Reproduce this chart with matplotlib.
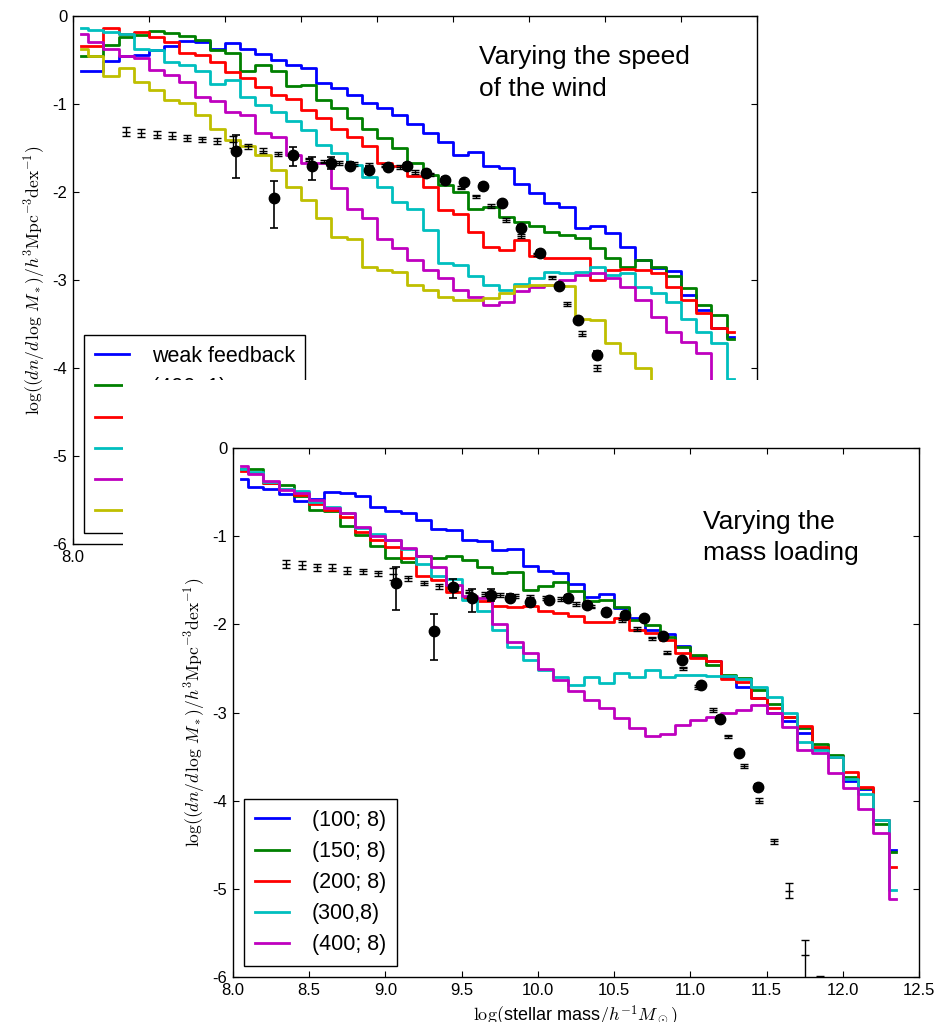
import matplotlib
matplotlib.use("Agg")
import matplotlib.pyplot as plt
import numpy as np

plt.rcParams.update({"font.family": "sans-serif", "font.sans-serif": ["Liberation Sans", "DejaVu Sans"],
    "mathtext.fontset": "cm", "axes.unicode_minus": False, "font.size": 12,
    "xtick.direction": "in", "ytick.direction": "in", "xtick.top": True, "ytick.right": True,
    "xtick.major.size": 4, "ytick.major.size": 4, "xtick.major.pad": 4, "ytick.major.pad": 4,
    "axes.linewidth": 1.0})

# bin centres of the model histograms (log M*)
mass_bins = np.round(np.arange(8.05, 12.36, 0.1), 2)

# top panel: varying the wind speed
top_labels = ["weak feedback", "(400; 1)", "(400; 2)", "(400; 4)", "(400; 6)", "(400; 8)"]
top_weak = [-0.625, -0.625, -0.51, -0.46, -0.44, -0.39, -0.34, -0.28, -0.29, -0.37, -0.31, -0.37, -0.43, -0.50,
            -0.56, -0.59, -0.76, -0.82, -0.90, -0.99, -1.04, -1.125, -1.23, -1.33, -1.43, -1.58, -1.55, -1.70,
            -1.73, -1.91, -2.01, -2.13, -2.17, -2.41, -2.39, -2.47, -2.62, -2.77, -2.86, -2.90, -3.17, -3.34,
            -3.55, -3.65]
top_v1 = [-0.46, -0.46, -0.33, -0.24, -0.22, -0.17, -0.19, -0.23, -0.27, -0.39, -0.42, -0.63, -0.56, -0.63,
          -0.80, -0.78, -0.95, -1.05, -1.16, -1.28, -1.39, -1.50, -1.67, -1.81, -1.92, -2.00, -2.19, -2.17,
          -2.28, -2.34, -2.39, -2.46, -2.49, -2.52, -2.64, -2.75, -2.85, -2.77, -2.85, -2.95, -3.09, -3.28,
          -3.40, -3.67]
top_v2 = [-0.34, -0.34, -0.14, -0.20, -0.18, -0.24, -0.30, -0.42, -0.44, -0.52, -0.64, -0.70, -0.81, -0.90,
          -0.94, -1.07, -1.16, -1.28, -1.38, -1.48, -1.67, -1.70, -1.82, -1.94, -2.20, -2.25, -2.45, -2.63,
          -2.66, -2.55, -2.73, -2.75, -2.75, -2.75, -3.00, -2.89, -2.88, -2.89, -2.92, -3.08, -3.23, -3.38,
          -3.55, -3.59]
top_v3 = [-0.14, -0.16, -0.18, -0.20, -0.37, -0.39, -0.52, -0.56, -0.63, -0.77, -0.73, -0.92, -1.01, -1.09,
          -1.19, -1.30, -1.47, -1.56, -1.69, -1.83, -1.94, -2.11, -2.19, -2.43, -2.81, -2.83, -2.96, -3.06,
          -3.11, -3.04, -2.98, -2.91, -2.92, -2.91, -2.85, -2.94, -2.92, -3.08, -3.15, -3.25, -3.44, -3.59,
          -3.72, -4.12]
top_v4 = [-0.20, -0.29, -0.37, -0.46, -0.48, -0.61, -0.67, -0.75, -0.92, -0.97, -1.09, -1.125, -1.33, -1.37,
          -1.58, -1.67, -1.67, -1.96, -2.19, -2.30, -2.53, -2.64, -2.77, -2.89, -2.98, -3.11, -3.19, -3.28,
          -3.25, -3.13, -3.08, -3.06, -3.00, -2.94, -2.92, -2.98, -3.08, -3.23, -3.42, -3.59, -3.70, -3.83,
          -4.25, -4.60]
top_v5 = [-0.38, -0.46, -0.68, -0.59, -0.75, -0.84, -0.95, -0.99, -1.125, -1.28, -1.41, -1.48, -1.58, -1.75,
          -1.94, -2.09, -2.30, -2.51, -2.53, -2.85, -2.89, -2.91, -3.06, -3.11, -3.19, -3.23, -3.23, -3.21,
          -3.15, -3.07, -3.06, -3.06, -3.07, -3.44, -3.45, -3.72, -3.83, -4.00, -4.15, -4.35, -4.60, -4.85,
          -5.10, -5.40]

# bottom panel: varying the mass loading
bot_labels = ["(100; 8)", "(150; 8)", "(200; 8)", "(300,8)", "(400; 8)"]
bot_100 = [-0.355, -0.44, -0.46, -0.52, -0.60, -0.58, -0.50, -0.51, -0.55, -0.665, -0.72, -0.74, -0.82, -0.92,
           -0.93, -1.04, -1.06, -1.16, -1.145, -1.34, -1.39, -1.42, -1.54, -1.685, -1.655, -1.82, -1.93, -2.06,
           -2.11, -2.25, -2.37, -2.42, -2.60, -2.71, -2.84, -3.00, -3.10, -3.23, -3.40, -3.50, -3.78, -3.87,
           -4.22, -4.56]
bot_150 = [-0.24, -0.24, -0.40, -0.42, -0.55, -0.70, -0.72, -0.89, -0.99, -1.11, -1.25, -1.29, -1.225, -1.25,
           -1.23, -1.27, -1.35, -1.42, -1.41, -1.61, -1.57, -1.52, -1.62, -1.74, -1.72, -1.80, -1.95, -2.01,
           -2.14, -2.26, -2.35, -2.46, -2.57, -2.61, -2.74, -2.90, -3.05, -3.18, -3.36, -3.48, -3.73, -3.86,
           -4.26, -4.58]
bot_200 = [-0.26, -0.28, -0.40, -0.47, -0.53, -0.63, -0.70, -0.78, -0.95, -1.04, -1.12, -1.25, -1.45, -1.50,
           -1.63, -1.70, -1.74, -1.79, -1.80, -1.79, -1.85, -1.87, -1.91, -1.97, -1.97, -1.93, -2.06, -2.10,
           -2.18, -2.33, -2.385, -2.42, -2.62, -2.65, -2.84, -2.95, -3.05, -3.15, -3.39, -3.50, -3.68, -3.85,
           -4.22, -4.75]
bot_300 = [-0.24, -0.27, -0.38, -0.46, -0.49, -0.61, -0.67, -0.74, -0.91, -0.97, -1.04, -1.14, -1.31, -1.45,
           -1.49, -1.72, -1.85, -2.06, -2.26, -2.40, -2.52, -2.60, -2.69, -2.60, -2.66, -2.555, -2.60, -2.52,
           -2.60, -2.575, -2.575, -2.585, -2.59, -2.62, -2.71, -2.82, -3.00, -3.33, -3.42, -3.51, -3.75, -3.92,
           -4.22, -5.01]
bot_400 = [-0.20, -0.295, -0.37, -0.48, -0.51, -0.59, -0.685, -0.74, -0.90, -0.995, -1.04, -1.13, -1.23, -1.35,
           -1.55, -1.68, -1.70, -2.00, -2.20, -2.33, -2.51, -2.63, -2.76, -2.86, -2.95, -3.06, -3.18, -3.27,
           -3.24, -3.14, -3.08, -3.05, -3.01, -2.97, -2.91, -3.01, -3.16, -3.42, -3.46, -3.69, -3.86, -4.10,
           -4.37, -5.11]

# observations: small error bars
obs1_x = np.round(np.arange(8.35, 11.86, 0.1), 2)
obs1_y = [-1.315, -1.33, -1.35, -1.36, -1.39, -1.40, -1.42, -1.43, -1.48, -1.53, -1.57, -1.60, -1.63, -1.655,
          -1.67, -1.68, -1.69, -1.70, -1.715, -1.77, -1.80, -1.87, -1.95, -2.05, -2.16, -2.32, -2.50, -2.71,
          -2.97, -3.27, -3.61, -4.00, -4.46, -5.02, -5.75, -6.40]
obs1_lo = [0.05, 0.045, 0.04, 0.04, 0.035, 0.03, 0.03, 0.07, 0.03, 0.025, 0.025, 0.02, 0.02, 0.02, 0.02, 0.02,
           0.02, 0.02, 0.02, 0.02, 0.02, 0.02, 0.02, 0.02, 0.02, 0.02, 0.02, 0.02, 0.02, 0.02, 0.025, 0.03,
           0.03, 0.085, 0.35, 0.40]
obs1_hi = [0.05, 0.045, 0.04, 0.04, 0.035, 0.03, 0.03, 0.07, 0.03, 0.025, 0.025, 0.02, 0.02, 0.02, 0.02, 0.02,
           0.02, 0.02, 0.02, 0.02, 0.02, 0.02, 0.02, 0.02, 0.02, 0.02, 0.02, 0.02, 0.02, 0.02, 0.025, 0.03,
           0.03, 0.085, 0.17, 0.41]

# observations: filled circles
obs2_x = [9.07, 9.32, 9.445, 9.57, 9.695, 9.82, 9.945, 10.07, 10.195, 10.32, 10.445, 10.57, 10.695, 10.82,
          10.945, 11.07, 11.195, 11.32, 11.445]
obs2_y = [-1.53, -2.07, -1.58, -1.70, -1.667, -1.70, -1.75, -1.72, -1.70, -1.78, -1.86, -1.89, -1.93, -2.13,
          -2.41, -2.69, -3.07, -3.46, -3.85]
obs2_lo = [0.31, 0.34, 0.12, 0.16, 0.07, 0.04, 0.04, 0.03, 0.03, 0.03, 0.03, 0.03, 0.03, 0.03, 0.03, 0.03,
           0.03, 0.03, 0.04]
obs2_hi = [0.18, 0.19, 0.09, 0.10, 0.07, 0.04, 0.04, 0.03, 0.03, 0.03, 0.03, 0.03, 0.03, 0.03, 0.03, 0.03,
           0.03, 0.03, 0.04]

colors6 = ["b", "g", "r", "c", "m", "y"]
YLAB = r"$\log((dn/d\,\log\,M_*)/h^3\mathrm{Mpc}^{-3}\mathrm{dex}^{-1})$"
XLAB = r"$\log($stellar mass$/h^{-1}M_\odot)$"


def panel(ax, series, labels):
    for ys, lab, col in zip(series, labels, colors6):
        ax.plot(mass_bins, ys, drawstyle="steps-mid", color=col, lw=2, label=lab)
    ax.errorbar(obs1_x, obs1_y, yerr=[obs1_lo, obs1_hi], fmt="_", color="k", ms=6, capsize=3,
                elinewidth=1, capthick=1, zorder=4)
    ax.errorbar(obs2_x, obs2_y, yerr=[obs2_lo, obs2_hi], fmt="o", color="k", ms=7.5, capsize=3,
                elinewidth=1.2, capthick=1.2, zorder=5)
    ax.set_xlim(8.0, 12.5); ax.set_ylim(-6, 0)
    ax.set_xticks(np.arange(8.0, 12.51, 0.5)); ax.set_yticks(np.arange(-6, 0.1, 1))
    ax.set_ylabel(YLAB, fontsize=12.6)
    ax.yaxis.set_label_coords(-0.037, 0.5)
    leg = ax.legend(loc="lower left", fontsize=15.5, frameon=True, fancybox=False, framealpha=1,
                    edgecolor="k", handlelength=1.6, handletextpad=1.05, borderpad=0.5, labelspacing=0.47)
    leg.get_frame().set_linewidth(1.0)


fig = plt.figure(figsize=(9.4, 10.22), dpi=100)

ax1 = fig.add_axes([0.07766, 0.46771, 0.72766, 0.51663])
panel(ax1, [top_weak, top_v1, top_v2, top_v3, top_v4, top_v5], top_labels)
ax1.text(10.67, -0.33, "Varying the speed\nof the wind", fontsize=19, va="top", ha="left", linespacing=1.4)

# the second figure is pasted over the first one
cover = fig.add_axes([0.1309, 0.0, 0.8691, 0.6282], zorder=1)
cover.set_facecolor("white"); cover.set_xticks([]); cover.set_yticks([])
for sp in cover.spines.values(): sp.set_visible(False)

ax2 = fig.add_axes([0.24787, 0.04403, 0.72979, 0.51761], zorder=2)
panel(ax2, [bot_100, bot_150, bot_200, bot_300, bot_400], bot_labels)
ax2.text(11.08, -0.70, "Varying the\nmass loading", fontsize=19, va="top", ha="left", linespacing=1.4)
ax2.set_xlabel(XLAB, fontsize=13)
ax2.xaxis.set_label_coords(0.5, -0.05)

fig.savefig("out.png", dpi=100)
